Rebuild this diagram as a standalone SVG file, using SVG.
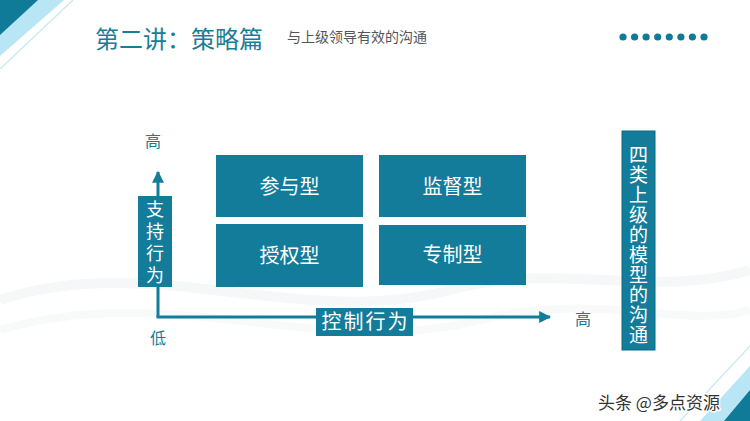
<svg xmlns="http://www.w3.org/2000/svg" width="750" height="421" viewBox="0 0 750 421">
  <defs>
    <style>
      .cjk { font-family: "Noto Sans CJK SC", "Noto Sans", sans-serif; }
      .box { fill: #137c9a; }
      .boxtxt { fill: #ffffff; font-size: 20px; text-anchor: middle; }
      .vtxt { fill: #ffffff; writing-mode: vertical-rl; text-anchor: start; }
      .axis { stroke: #137c9a; stroke-width: 3; fill: none; }
      .lbl { fill: #137c9a; font-size: 16px; text-anchor: middle; }
      .dot { fill: #0f7b99; }
    </style>
    <marker id="arr" viewBox="0 0 10 10" refX="9" refY="5" markerWidth="4" markerHeight="4" markerUnits="strokeWidth" orient="auto">
      <path d="M0,0 L10,5 L0,10 Z" fill="#137c9a"/>
    </marker>
  </defs>

  <rect width="750" height="421" fill="#ffffff"/>
  <!-- subtle background waves -->
  <path d="M0,300 C150,250 300,330 450,290 C560,260 650,300 750,270" fill="none" stroke="#f6f7f8" stroke-width="10"/>
  <path d="M0,330 C170,280 320,360 480,320 C600,290 680,330 750,310" fill="none" stroke="#f8f9f9" stroke-width="8"/>

  <!-- corner decorations -->
  <g id="corner-tl">
    <polygon points="0,0 64,0 0,56" fill="#b9e6f5"/>
    <polygon points="0,0 38,0 0,35" fill="#0f7b99"/>
    <line x1="73" y1="0" x2="0" y2="69" stroke="#cdeaf3" stroke-width="1.5"/>
  </g>
  <g id="corner-br">
    <polygon points="750,366 750,421 700,421" fill="#b9e6f5"/>
    <polygon points="750,390 750,421 724,421" fill="#0f7b99"/>
    <line x1="750" y1="346" x2="680" y2="421" stroke="#cdeaf3" stroke-width="1.5"/>
  </g>

  <!-- header -->
  <g id="header">
    <text x="95" y="48" class="cjk" font-size="24" fill="#1a7d96">第二讲：策略篇</text>
    <text x="287" y="42" class="cjk" font-size="14" fill="#555555">与上级领导有效的沟通</text>
    <g id="dots">
      <circle class="dot" cx="623" cy="37" r="3.6"/>
      <circle class="dot" cx="634.6" cy="37" r="3.6"/>
      <circle class="dot" cx="646.1" cy="37" r="3.6"/>
      <circle class="dot" cx="657.7" cy="37" r="3.6"/>
      <circle class="dot" cx="669.3" cy="37" r="3.6"/>
      <circle class="dot" cx="680.9" cy="37" r="3.6"/>
      <circle class="dot" cx="692.4" cy="37" r="3.6"/>
      <circle class="dot" cx="704" cy="37" r="3.6"/>
    </g>
  </g>

  <!-- connectors (axes) -->
  <g id="connectors">
    <path class="axis" d="M158,317 L158,172" marker-end="url(#arr)"/>
    <path class="axis" d="M156.5,317 L550,317" marker-end="url(#arr)"/>
  </g>

  <!-- axis labels -->
  <g id="axis-labels" class="cjk">
    <text class="lbl" x="153" y="147">高</text>
    <text class="lbl" x="158" y="344">低</text>
    <text class="lbl" x="583" y="325">高</text>
  </g>

  <g id="y-axis-title">
    <rect class="box" x="138" y="196" width="34" height="91"/>
    <text class="cjk vtxt" font-size="18" letter-spacing="4" x="155" y="200">支持行为</text>
  </g>

  <g id="x-axis-title">
    <rect class="box" x="316" y="308" width="97" height="28"/>
    <text class="cjk boxtxt" font-size="19" letter-spacing="2" x="365.5" y="329">控制行为</text>
  </g>

  <g id="node-canyu">
    <rect class="box" x="216" y="155" width="147" height="62"/>
    <text class="cjk boxtxt" x="289.5" y="194">参与型</text>
  </g>
  <g id="node-jiandu">
    <rect class="box" x="379" y="155" width="147" height="62"/>
    <text class="cjk boxtxt" x="452.5" y="194">监督型</text>
  </g>
  <g id="node-shouquan">
    <rect class="box" x="216" y="224" width="147" height="63"/>
    <text class="cjk boxtxt" x="289.5" y="263">授权型</text>
  </g>
  <g id="node-zhuanzhi">
    <rect class="box" x="379" y="225" width="147" height="60"/>
    <text class="cjk boxtxt" x="452.5" y="262">专制型</text>
  </g>

  <g id="side-title">
    <rect class="box" x="622" y="131" width="33" height="219" stroke="#0d6a85" stroke-width="1"/>
    <text class="cjk vtxt" font-size="19" letter-spacing="1" fill="#eef8fb" x="638.5" y="145">四类上级的模型的沟通</text>
  </g>

  <g id="watermark">
    <text x="598" y="409" class="cjk" font-size="17" fill="#333333" stroke="#ffffff" stroke-width="3" paint-order="stroke" stroke-linejoin="round">头条 @多点资源</text>
  </g>
</svg>
